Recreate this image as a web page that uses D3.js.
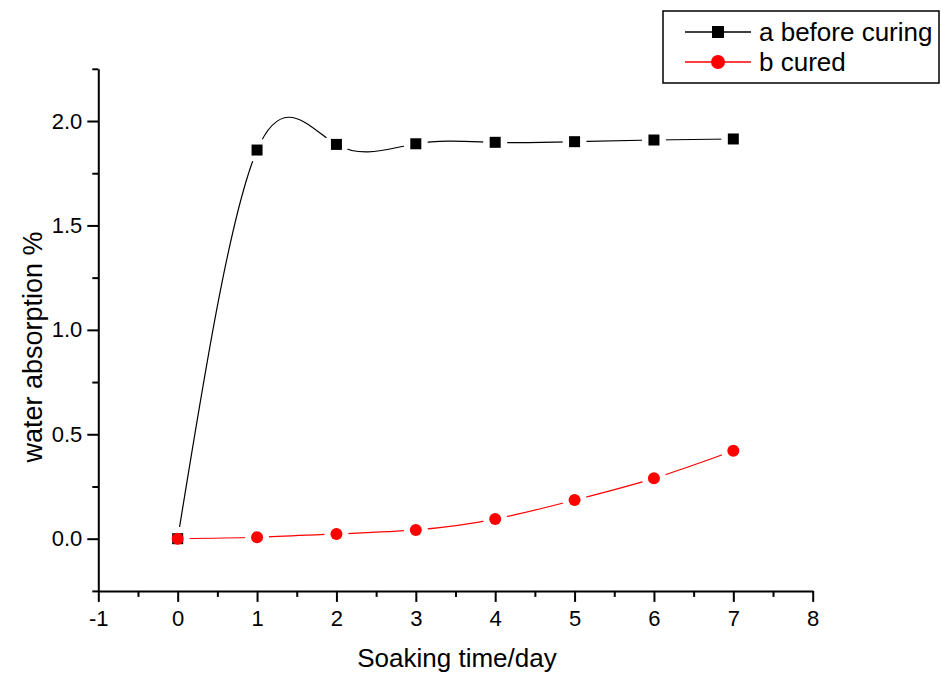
<!DOCTYPE html>
<html>
<head>
<meta charset="utf-8">
<script src="https://cdn.jsdelivr.net/npm/d3@7"></script>
<style>
  body { margin: 0; background: #fff; }
  svg { display: block; font-family: "Liberation Sans", Arial, sans-serif; }
</style>
</head>
<body>
<div class="canvas"></div>
<script>
// data
const days = [0, 1, 2, 3, 4, 5, 6, 7];
const beforeCuring = [0, 1.861, 1.888, 1.891, 1.898, 1.901, 1.909, 1.914];
const cured = [0, 0.007, 0.023, 0.042, 0.094, 0.185, 0.289, 0.421];
const xTicks = [-1, 0, 1, 2, 3, 4, 5, 6, 7, 8];
const yTicks = [0, 0.5, 1.0, 1.5, 2.0];
const seriesNames = ["a before curing", "b cured"];

const width = 941, height = 673;
const svg = d3.select('.canvas')
  .append('svg')
    .attr('width', width)
    .attr('height', height);

// scales
const x = d3.scaleLinear().domain([-1, 8]).range([98.3, 812.7]);
const y = d3.scaleLinear().domain([-0.25, 2.25]).range([590.9, 68.8]);

const series = [
  { name: seriesNames[0], values: beforeCuring, colour: '#000000', shape: 'square' },
  { name: seriesNames[1], values: cured, colour: '#ff0000', shape: 'circle' }
];

// masks so the lines stop short of the markers
const defs = svg.append('defs');
series.forEach((s, i) => {
  const mask = defs.append('mask').attr('id', 'gap' + i).attr('maskUnits', 'userSpaceOnUse')
    .attr('x', 0).attr('y', 0).attr('width', width).attr('height', height);
  mask.append('rect').attr('width', width).attr('height', height).attr('fill', '#fff');
  mask.selectAll('circle')
    .data(days)
    .enter().append('circle')
      .attr('cx', d => x(d))
      .attr('cy', (d, j) => y(s.values[j]))
      .attr('r', 12)
      .attr('fill', '#000');
});

// lines
const line = d3.line()
  .x(d => x(d[0]))
  .y(d => y(d[1]))
  .curve(d3.curveNatural);

series.forEach((s, i) => {
  svg.append('path')
    .datum(days.map((d, j) => [d, s.values[j]]))
    .attr('fill', 'none')
    .attr('stroke', s.colour)
    .attr('stroke-width', 1.2)
    .attr('mask', `url(#gap${i})`)
    .attr('d', line);
});

// markers
function drawMarker(g, shape, colour, cx, cy, size) {
  if (shape === 'square') {
    g.append('rect')
      .attr('x', cx - size / 2).attr('y', cy - size / 2)
      .attr('width', size).attr('height', size)
      .attr('fill', colour);
  } else {
    g.append('circle')
      .attr('cx', cx).attr('cy', cy)
      .attr('r', size / 2)
      .attr('fill', colour);
  }
}

series.forEach(s => {
  const g = svg.append('g');
  days.forEach((d, j) => {
    drawMarker(g, s.shape, s.colour, x(d), y(s.values[j]), s.shape === 'square' ? 11 : 12);
  });
});

// axes
const xAxisY = 590.9, yAxisX = 98.3;

const xMinor = svg.append('g')
  .attr('transform', `translate(0, ${xAxisY})`)
  .call(d3.axisBottom(x).tickValues(d3.range(-0.5, 8, 1)).tickSize(6).tickSizeOuter(0).tickFormat(''));
xMinor.select('.domain').remove();

const xAxisGroup = svg.append('g')
  .attr('transform', `translate(0, ${xAxisY})`)
  .call(d3.axisBottom(x).tickValues(xTicks).tickSize(11).tickSizeOuter(0).tickPadding(8)
    .tickFormat(d => String(d)));

const yMinor = svg.append('g')
  .attr('transform', `translate(${yAxisX}, 0)`)
  .call(d3.axisLeft(y).tickValues([-0.25, 0.25, 0.75, 1.25, 1.75, 2.25]).tickSize(6).tickSizeOuter(0).tickFormat(''));
yMinor.select('.domain').remove();

const yAxisGroup = svg.append('g')
  .attr('transform', `translate(${yAxisX}, 0)`)
  .call(d3.axisLeft(y).tickValues(yTicks).tickSize(11).tickSizeOuter(0).tickPadding(5).tickFormat(d3.format('.1f')));

svg.selectAll('.domain, .tick line')
  .attr('stroke', '#000')
  .attr('stroke-width', 2);
svg.selectAll('.tick text')
  .attr('fill', '#000')
  .style('font-size', '22px')
  .style('font-family', '"Liberation Sans", Arial, sans-serif');

// axis titles
svg.append('text')
  .attr('x', 457)
  .attr('y', 667)
  .attr('text-anchor', 'middle')
  .style('font-size', '26px')
  .text('Soaking time/day');

svg.append('text')
  .attr('transform', 'translate(42, 347) rotate(-90)')
  .attr('text-anchor', 'middle')
  .style('font-size', '27px')
  .text('water absorption %');

// legend
const legend = svg.append('g');
legend.append('rect')
  .attr('x', 663).attr('y', 11)
  .attr('width', 276).attr('height', 72)
  .attr('fill', 'none')
  .attr('stroke', '#000')
  .attr('stroke-width', 1.5);

series.forEach((s, i) => {
  const ly = 32 + i * 30;
  legend.append('line')
    .attr('x1', 685).attr('x2', 751)
    .attr('y1', ly).attr('y2', ly)
    .attr('stroke', s.colour)
    .attr('stroke-width', 1.3);
  drawMarker(legend, s.shape, s.colour, 718, ly, s.shape === 'square' ? 12 : 14);
  legend.append('text')
    .attr('x', 759).attr('y', ly + 9)
    .style('font-size', '26px')
    .text(s.name);
});
</script>
</body>
</html>
